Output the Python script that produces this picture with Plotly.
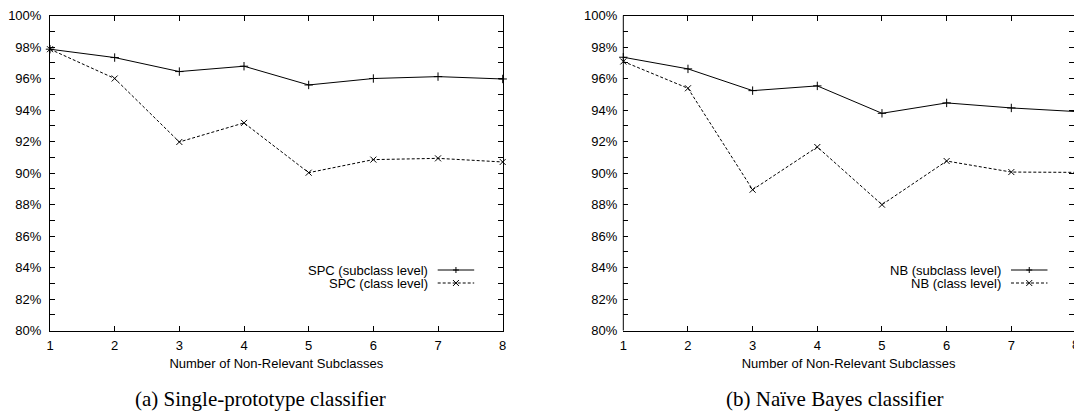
import plotly.graph_objects as go

# ---------------- data ----------------
subclasses = [1, 2, 3, 4, 5, 6, 7, 8]
spc_subclass = [97.86, 97.33, 96.44, 96.78, 95.59, 96.00, 96.12, 95.97]
spc_class = [97.86, 96.00, 91.97, 93.18, 90.02, 90.85, 90.93, 90.70]
nb_subclass = [97.35, 96.61, 95.23, 95.53, 93.79, 94.45, 94.13, 93.90]
nb_class = [97.08, 95.38, 88.94, 91.65, 87.99, 90.76, 90.06, 90.04]
y_ticks = [80, 82, 84, 86, 88, 90, 92, 94, 96, 98, 100]
x_title = "Number of Non-Relevant Subclasses"
captions = ["(a) Single-prototype classifier", "(b) Naïve Bayes classifier"]
legend_names = [["SPC (subclass level)", "SPC (class level)"],
                ["NB (subclass level)", "NB (class level)"]]

# ---------------- layout geometry (pixels) ----------------
W, H = 1074, 414
px_per_unit = 64.67
left_plot = (50.0, 50.0 + 7 * px_per_unit)
right_plot = (623.3, float(W))
right_range_end = 1 + (W - 623.3) / px_per_unit
y_top, y_bot = 15.5, 330.5

def fx(p):
    return p / W

def fy(p):
    return 1 - p / H

SANS = "Liberation Sans, Arial, Helvetica, sans-serif"
SERIF = "Liberation Serif, Times New Roman, serif"
FS = 13
TICK_FONT = dict(family=SANS, size=FS, color="black")

fig = go.Figure()

series = [(spc_subclass, spc_class, "x", "y"), (nb_subclass, nb_class, "x2", "y2")]
for (sub, cls, xa, ya), names in zip(series, legend_names):
    fig.add_trace(go.Scatter(
        x=subclasses, y=sub, xaxis=xa, yaxis=ya, mode="lines+markers",
        name=names[0], showlegend=False, cliponaxis=False,
        line=dict(color="black", width=1),
        marker=dict(symbol="cross-thin", size=6, line=dict(color="black", width=1)),
    ))
    fig.add_trace(go.Scatter(
        x=subclasses, y=cls, xaxis=xa, yaxis=ya, mode="lines+markers",
        name=names[1], showlegend=False, cliponaxis=False,
        line=dict(color="black", width=1, dash="3px,2px"),
        marker=dict(symbol="x-thin", size=6, line=dict(color="black", width=1)),
    ))

common_x = dict(
    tickmode="array", tickvals=subclasses, ticktext=[str(v) for v in subclasses],
    ticks="inside", ticklen=5, tickwidth=1, tickcolor="black",
    showline=True, linecolor="black", linewidth=1, mirror="ticks",
    showgrid=False, zeroline=False, tickfont=TICK_FONT, automargin=False,
    ticklabelstandoff=3,
    title=dict(text=x_title, font=dict(family=SANS, size=FS, color="black"), standoff=6),
)
common_y = dict(
    range=[80, 100], tickmode="array", tickvals=y_ticks,
    ticktext=[f"{v}%" for v in y_ticks],
    ticks="inside", ticklen=5, tickwidth=1, tickcolor="black",
    minor=dict(ticks="inside", dtick=1, ticklen=5, tickwidth=1, tickcolor="black", showgrid=False),
    showgrid=False, zeroline=False, tickfont=TICK_FONT, automargin=False,
    ticklabelstandoff=5,
    mirror="ticks",
)

fig.update_layout(
    width=W, height=H,
    margin=dict(l=0, r=0, t=0, b=0),
    paper_bgcolor="white", plot_bgcolor="white",
    showlegend=False,
    xaxis=dict(common_x, domain=[fx(left_plot[0]), fx(left_plot[1])], range=[1, 8], anchor="y"),
    yaxis=dict(common_y, domain=[fy(y_bot), fy(y_top)], anchor="x",
               showline=True, linecolor="black", linewidth=1),
    xaxis2=dict(common_x, domain=[fx(right_plot[0]), 1.0], range=[1, right_range_end], anchor="y2"),
    yaxis2=dict(common_y, domain=[fy(y_bot), fy(y_top)], anchor="x2", showline=False),
)

shapes = []
annotations = []
# left border of the right panel (its right border lies outside the picture)
shapes.append(dict(type="line", xref="paper", yref="paper",
                   x0=fx(right_plot[0]), x1=fx(right_plot[0]),
                   y0=fy(y_bot), y1=fy(y_top), line=dict(color="black", width=1)))

# partially visible "8" tick label of the right panel
annotations.append(dict(text="8", xref="paper", yref="paper",
                        x=fx(right_plot[0] + 7 * px_per_unit), y=fy(344),
                        xanchor="center", yanchor="middle", showarrow=False,
                        font=TICK_FONT))

# gnuplot-style legends (text right-aligned, sample on the right)
for i, plot in enumerate([left_plot, (right_plot[0], right_plot[0] + 7 * px_per_unit)]):
    right_edge = plot[1]
    text_x = right_edge - 73
    s0, s1 = right_edge - 65, right_edge - 28.5
    sm = (s0 + s1) / 2
    for row, (ypx, dash, sym) in enumerate([(270, "solid", "+"), (283, "3px,2px", "x")]):
        annotations.append(dict(text=legend_names[i][row], xref="paper", yref="paper",
                                x=fx(text_x), y=fy(ypx), xanchor="right", yanchor="middle",
                                showarrow=False, font=TICK_FONT))
        shapes.append(dict(type="line", xref="paper", yref="paper",
                           x0=fx(s0), x1=fx(s1), y0=fy(ypx), y1=fy(ypx),
                           line=dict(color="black", width=1, dash=dash)))
        r = 3
        if sym == "+":
            segs = [(sm - r, ypx, sm + r, ypx), (sm, ypx - r, sm, ypx + r)]
        else:
            segs = [(sm - r, ypx - r, sm + r, ypx + r), (sm - r, ypx + r, sm + r, ypx - r)]
        for a, b, c, d in segs:
            shapes.append(dict(type="line", xref="paper", yref="paper",
                               x0=fx(a), y0=fy(b), x1=fx(c), y1=fy(d),
                               line=dict(color="black", width=1)))

# captions
for cap, cx in zip(captions, [260, 834.5]):
    annotations.append(dict(text=cap, xref="paper", yref="paper", x=fx(cx), y=fy(399),
                            xanchor="center", yanchor="middle", showarrow=False,
                            font=dict(family=SERIF, size=21, color="black")))

fig.update_layout(shapes=shapes, annotations=annotations)
fig.write_html("out.html")
